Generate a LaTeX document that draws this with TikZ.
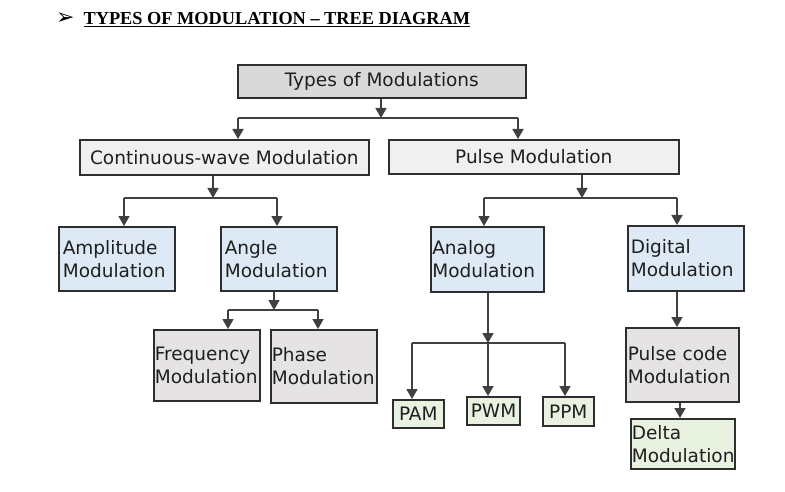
\documentclass[tikz,border=0pt]{standalone}
\usepackage{fontspec}
\setmainfont{DejaVu Sans}
\newfontfamily\titlefont{Liberation Serif}
\newfontfamily\symfont{DejaVu Sans}
\usetikzlibrary{arrows.meta}
\definecolor{edge}{HTML}{2E2E2E}
\definecolor{wire}{HTML}{404040}
\definecolor{topfill}{HTML}{D9D9D9}
\definecolor{lightfill}{HTML}{F0F0F0}
\definecolor{bluefill}{HTML}{DDE9F5}
\definecolor{grayfill}{HTML}{E5E3E3}
\definecolor{greenfill}{HTML}{E9F2E1}
\tikzset{
    box/.style={draw=edge, line width=1.6pt, anchor=north west, inner xsep=4pt, inner ysep=0pt,
        font=\fontsize{18.5}{23}\selectfont, text=black!88},
    link/.style={wire, line width=1.7pt, -{Triangle[length=10pt,width=11pt]}},
    bus/.style={wire, line width=1.7pt},
}
\begin{document}
\begin{tikzpicture}[x=1pt,y=-1pt]
    \useasboundingbox (0,0) rectangle (785,492);

    \node[anchor=west, inner sep=0pt, font=\fontsize{18.3}{22}\selectfont] (title) at (56,20)
        {{\symfont\fontsize{22}{24}\selectfont ➢}\hspace{9pt}{\titlefont\bfseries\underline{TYPES OF MODULATION – TREE DIAGRAM}}};

    \node[box, fill=topfill, minimum width=288pt, minimum height=33pt] (types) at (237,64) {Types of Modulations};
    \node[box, fill=lightfill, minimum width=289pt, minimum height=35pt] (cw) at (79,139) {Continuous-wave Modulation};
    \node[box, fill=lightfill, minimum width=290pt, minimum height=34pt] (pulse) at (388,139) {Pulse Modulation};

    \node[box, fill=bluefill, minimum width=116pt, minimum height=64pt, text width=108pt, align=left] (am) at (58,226) {Amplitude\\Modulation};
    \node[box, fill=bluefill, minimum width=116pt, minimum height=64pt, text width=108pt, align=left] (angle) at (220,226) {Angle\\Modulation};
    \node[box, fill=grayfill, minimum width=106pt, minimum height=71pt, text width=104pt, inner xsep=1pt, align=left] (fm) at (153,329) {Frequency\\Modulation};
    \node[box, fill=grayfill, minimum width=106pt, minimum height=73pt, text width=104pt, inner xsep=1pt, align=left] (pm) at (270,329) {Phase\\Modulation};

    \node[box, fill=bluefill, minimum width=113pt, minimum height=65pt, text width=110pt, inner xsep=1.5pt, align=left] (analog) at (430,226) {Analog\\Modulation};
    \node[box, fill=bluefill, minimum width=116pt, minimum height=65pt, text width=110pt, inner xsep=3pt, align=left] (digital) at (627,225) {Digital\\Modulation};

    \node[box, fill=greenfill, minimum width=51pt, minimum height=28pt] (pam) at (392,399) {PAM};
    \node[box, fill=greenfill, minimum width=52pt, minimum height=28pt] (pwm) at (466,396) {PWM};
    \node[box, fill=greenfill, minimum width=51pt, minimum height=29pt] (ppm) at (542,396) {PPM};

    \node[box, fill=grayfill, minimum width=113pt, minimum height=74pt, text width=109pt, inner xsep=2pt, align=left] (pcm) at (625,327) {Pulse code\\Modulation};
    \node[box, fill=greenfill, minimum width=104pt, minimum height=50pt, text width=102pt, inner xsep=1pt, align=left] (dm) at (630,418) {Delta\\Modulation};

    \coordinate (j1) at (381,118);
    \coordinate (j2) at (213,198);
    \coordinate (j3) at (274,310);
    \coordinate (j4) at (582,198);
    \coordinate (j5) at (488,343);

    \draw[link] (types.south -| j1) -- (j1);
    \draw[bus] (238,118) -- (518,118);
    \draw[link] (238,118) -- (238,118 |- cw.north);
    \draw[link] (518,118) -- (518,118 |- pulse.north);

    \draw[link] (cw.south -| j2) -- (j2);
    \draw[bus] (124,198) -- (277,198);
    \draw[link] (124,198) -- (124,198 |- am.north);
    \draw[link] (277,198) -- (277,198 |- angle.north);

    \draw[link] (angle.south -| j3) -- (j3);
    \draw[bus] (228,310) -- (318,310);
    \draw[link] (228,310) -- (228,310 |- fm.north);
    \draw[link] (318,310) -- (318,310 |- pm.north);

    \draw[link] (pulse.south -| j4) -- (j4);
    \draw[bus] (484,198) -- (677,198);
    \draw[link] (484,198) -- (484,198 |- analog.north);
    \draw[link] (677,198) -- (677,198 |- digital.north);

    \draw[link] (analog.south -| j5) -- (j5);
    \draw[bus] (412,343) -- (565,343);
    \draw[link] (412,343) -- (412,343 |- pam.north);
    \draw[link] (j5) -- (j5 |- pwm.north);
    \draw[link] (565,343) -- (565,343 |- ppm.north);

    \draw[link] (digital.south -| 677,0) -- (677,0 |- pcm.north);
    \draw[link] (pcm.south -| 680,0) -- (680,0 |- dm.north);

\end{tikzpicture}
\end{document}
